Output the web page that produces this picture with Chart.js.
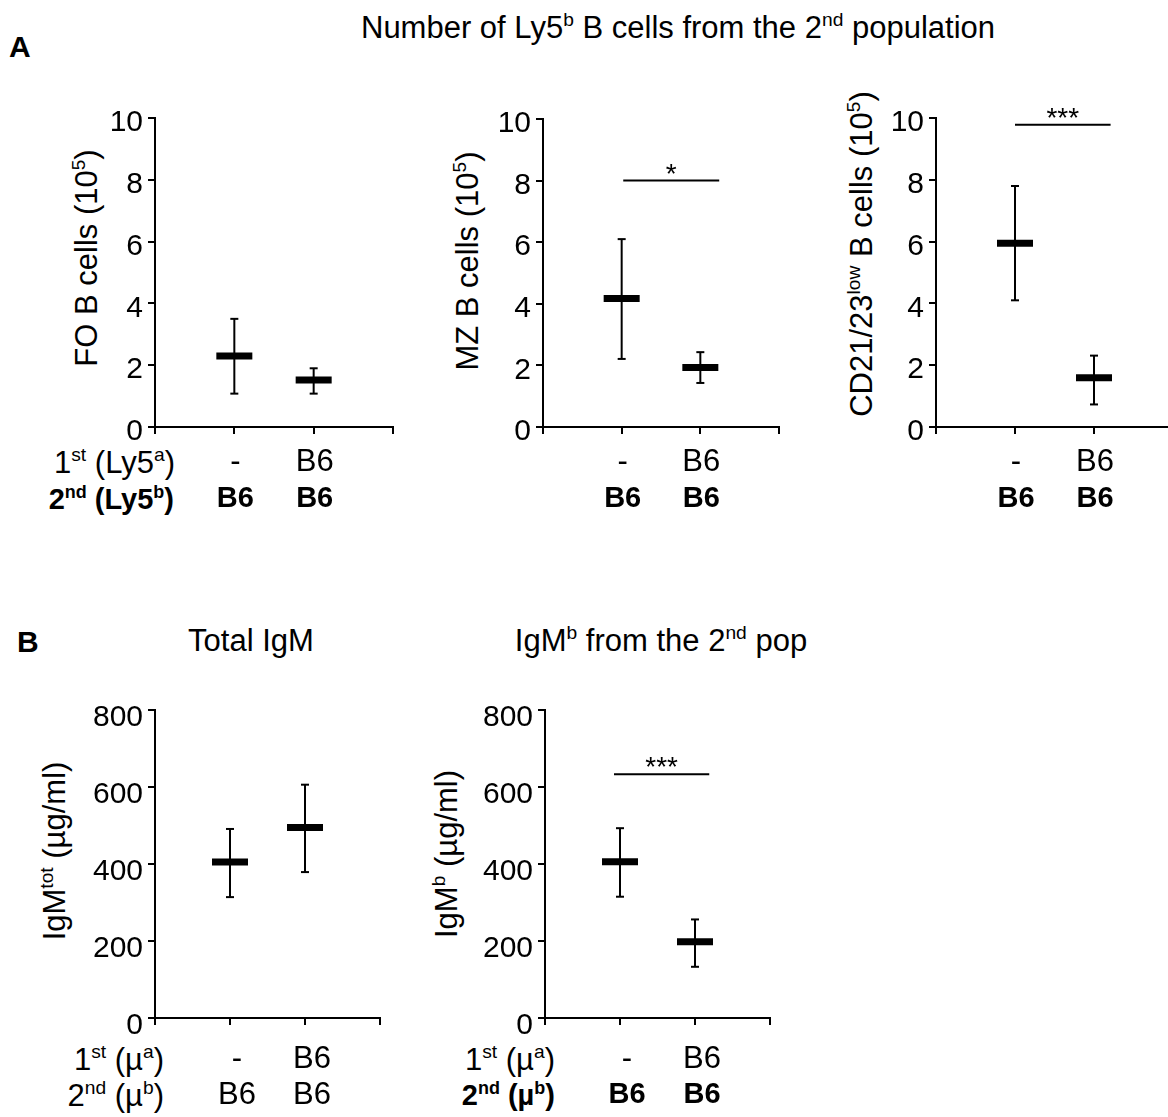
<!DOCTYPE html>
<html>
<head>
<meta charset="utf-8">
<script src="https://cdn.jsdelivr.net/npm/chart.js@4.4.1/dist/chart.umd.min.js"></script>
<style>
    body {
        margin: 0;
        width: 1168px;
        height: 1117px;
        overflow: hidden;
        position: relative;
        background: #fff;
        color: #000;
        font-family: "Liberation Sans", Arial, sans-serif;
    }
    .txt { position: absolute; white-space: nowrap; line-height: 1; }
    .c { transform: translate(-50%, -50%); }
    .r { transform: translate(-100%, -50%); }
    .v { transform: translate(-50%, -50%) rotate(-90deg); }
    .b { font-weight: bold; }
    sup { font-size: 0.62em; vertical-align: 0.6em; line-height: 0; }
    .panel { position: absolute; }
</style>
</head>
<body>

<div class="txt c" style="left:678px; top:27px; font-size:31px;">Number of Ly5<sup>b</sup> B cells from the 2<sup>nd</sup> population</div>
<div class="txt b" style="left:9px; top:32px; font-size:30px;">A</div>
<div class="txt b" style="left:17px; top:627px; font-size:30px;">B</div>
<div class="txt c" style="left:251px; top:640px; font-size:31px;">Total IgM</div>
<div class="txt c" style="left:661px; top:640px; font-size:31px;">IgM<sup>b</sup> from the 2<sup>nd</sup> pop</div>

<!-- rotated y axis titles -->
<div class="txt v" style="left:86px; top:258px; font-size:31px;">FO B cells (10<sup>5</sup>)</div>
<div class="txt v" style="left:467px; top:261px; font-size:31px;">MZ B cells (10<sup>5</sup>)</div>
<div class="txt v" style="left:861px; top:254px; font-size:31px;">CD21/23<sup>low</sup> B cells (10<sup>5</sup>)</div>
<div class="txt v" style="left:54px; top:851px; font-size:31px;">IgM<sup>tot</sup> (µg/ml)</div>
<div class="txt v" style="left:446px; top:854px; font-size:31px;">IgM<sup>b</sup> (µg/ml)</div>

<!-- row headers under the x axes -->
<div class="txt r" style="left:175px; top:462px; font-size:31px;">1<sup>st</sup> (Ly5<sup>a</sup>)</div>
<div class="txt r b" style="left:174px; top:499px; font-size:29px;">2<sup>nd</sup> (Ly5<sup>b</sup>)</div>
<div class="txt r" style="left:164px; top:1059px; font-size:31px;">1<sup>st</sup> (µ<sup>a</sup>)</div>
<div class="txt r" style="left:164px; top:1095px; font-size:31px;">2<sup>nd</sup> (µ<sup>b</sup>)</div>
<div class="txt r" style="left:555px; top:1059px; font-size:31px;">1<sup>st</sup> (µ<sup>a</sup>)</div>
<div class="txt r b" style="left:555px; top:1095px; font-size:29px;">2<sup>nd</sup> (µ<sup>b</sup>)</div>

<script>
// groups on the x axis
const groupX = [1, 2];
const row1Labels = ['-', 'B6'];
const row2Labels = ['B6', 'B6'];

// y axis ticks
const ticksCells = [0, 2, 4, 6, 8, 10];
const ticksIgm = [0, 200, 400, 600, 800];

// FO B cells (10^5)
const foMean = [2.3, 1.52];
const foHigh = [3.5, 1.9];
const foLow = [1.08, 1.08];

// MZ B cells (10^5)
const mzMean = [4.17, 1.93];
const mzHigh = [6.1, 2.43];
const mzLow = [2.21, 1.43];
const mzSigX = [1.02, 2.24];
const mzSigY = 8.0;

// CD21/23 low B cells (10^5)
const cdMean = [5.95, 1.59];
const cdHigh = [7.8, 2.31];
const cdLow = [4.1, 0.73];
const cdSigX = [1.0, 2.21];
const cdSigY = 9.78;

// total IgM (ug/ml)
const totMean = [405, 495];
const totHigh = [491, 606];
const totLow = [314, 379];

// IgM b (ug/ml)
const igbMean = [406, 198];
const igbHigh = [493, 256];
const igbLow = [315, 133];
const igbSigX = [0.92, 2.19];
const igbSigY = 633;

const FONT = '"Liberation Sans", Arial, sans-serif';
const PADL = 150, PADT = 40, PADR = 12, PADB = 110;

const panels = [
    { axisX: 155, yTop: 118, yBottom: 427, xRight: 393, ticks: ticksCells, mean: foMean, high: foHigh, low: foLow,
      labelOffset: 5, dx: 1, rowDy: [35, 72], row2Bold: true },
    { axisX: 543, yTop: 119, yBottom: 427, xRight: 779, ticks: ticksCells, mean: mzMean, high: mzHigh, low: mzLow,
      sigX: mzSigX, sigY: mzSigY, stars: '*', labelOffset: 5, dx: 1, rowDy: [35, 72], row2Bold: true },
    { axisX: 936, yTop: 118, yBottom: 427, xRight: 1173, ticks: ticksCells, mean: cdMean, high: cdHigh, low: cdLow,
      sigX: cdSigX, sigY: cdSigY, stars: '***', labelOffset: 5, dx: 1, rowDy: [35, 72], row2Bold: true },
    { axisX: 155, yTop: 710, yBottom: 1018, xRight: 380, ticks: ticksIgm, mean: totMean, high: totHigh, low: totLow,
      labelOffset: 8, dx: 7, rowDy: [41, 77], row2Bold: false },
    { axisX: 545, yTop: 710, yBottom: 1018, xRight: 770, ticks: ticksIgm, mean: igbMean, high: igbHigh, low: igbLow,
      sigX: igbSigX, sigY: igbSigY, stars: '***', labelOffset: 8, dx: 7, rowDy: [41, 77], row2Bold: true }
];

// category labels under the axis + significance stars
const extrasPlugin = {
    id: 'extras',
    afterDraw(chart, args, opts) {
        const ctx = chart.ctx;
        const x = chart.scales.x, y = chart.scales.y;
        const bottom = chart.chartArea.bottom;
        ctx.save();
        ctx.fillStyle = '#000';
        ctx.textAlign = 'center';
        ctx.textBaseline = 'middle';
        groupX.forEach((g, i) => {
            const px = x.getPixelForValue(g) + opts.dx;
            ctx.font = '31px ' + FONT;
            ctx.fillText(row1Labels[i], px, bottom + opts.rowDy[0]);
            ctx.font = (opts.row2Bold ? 'bold 29px ' : '31px ') + FONT;
            ctx.fillText(row2Labels[i], px, bottom + opts.rowDy[1]);
        });
        if (opts.sigX) {
            const mid = (x.getPixelForValue(opts.sigX[0]) + x.getPixelForValue(opts.sigX[1])) / 2;
            ctx.font = '28px ' + FONT;
            ctx.textBaseline = 'alphabetic';
            ctx.fillText(opts.stars, mid, y.getPixelForValue(opts.sigY) + 2);
        }
        ctx.restore();
    }
};

function buildConfig(p) {
    // means first so they are drawn on top
    const datasets = [{
        data: p.mean.map((m, i) => ({ x: groupX[i], y: m })),
        showLine: false,
        pointStyle: 'line',
        pointRadius: 18,
        pointBorderWidth: 7,
        pointBorderColor: '#000'
    }];
    p.mean.forEach((m, i) => {
        datasets.push({
            data: [{ x: groupX[i], y: p.low[i] }, { x: groupX[i], y: p.high[i] }],
            borderColor: '#000',
            borderWidth: 2,
            pointStyle: 'line',
            pointRadius: 4,
            pointBorderWidth: 2,
            pointBorderColor: '#000'
        });
    });
    if (p.sigX) {
        datasets.push({
            data: p.sigX.map(x => ({ x: x, y: p.sigY })),
            borderColor: '#000',
            borderWidth: 2,
            pointRadius: 0
        });
    }

    const axisGrid = { drawOnChartArea: false, drawTicks: true, tickLength: 7, color: '#000', lineWidth: 2 };
    const axisBorder = { display: true, color: '#000', width: 2 };
    const t = p.ticks;

    return {
        type: 'line',
        data: { datasets: datasets },
        options: {
            responsive: false,
            animation: false,
            clip: false,
            events: [],
            layout: { padding: { left: 0, top: PADT, right: PADR, bottom: 0 } },
            plugins: {
                legend: { display: false },
                tooltip: { enabled: false },
                extras: { dx: p.dx, rowDy: p.rowDy, row2Bold: p.row2Bold, sigX: p.sigX, sigY: p.sigY, stars: p.stars }
            },
            scales: {
                x: {
                    type: 'linear',
                    min: 0,
                    max: 3,
                    ticks: { display: false, stepSize: 1 },
                    grid: axisGrid,
                    border: axisBorder,
                    afterFit: s => { s.height = PADB; }
                },
                y: {
                    min: t[0],
                    max: t[t.length - 1],
                    ticks: {
                        stepSize: t[1] - t[0],
                        color: '#000',
                        padding: 5,
                        labelOffset: p.labelOffset,
                        font: { family: FONT, size: 30 }
                    },
                    grid: axisGrid,
                    border: axisBorder,
                    afterFit: s => { s.width = PADL; }
                }
            }
        },
        plugins: [extrasPlugin]
    };
}

function makeChart(p) {
    const wrap = document.createElement('div');
    wrap.className = 'panel';
    document.body.appendChild(wrap);

    let w = p.xRight - p.axisX + PADL + PADR;
    let h = p.yBottom - p.yTop + PADT + PADB;
    let chart, ca;
    // build, measure the plot area, and rebuild with a corrected canvas size
    for (let pass = 0; pass < 3; pass++) {
        wrap.innerHTML = '';
        const canvas = document.createElement('canvas');
        canvas.width = w;
        canvas.height = h;
        wrap.appendChild(canvas);
        chart = new Chart(canvas.getContext('2d'), buildConfig(p));
        ca = chart.chartArea;
        const dw = Math.round((p.xRight - p.axisX) - (ca.right - ca.left));
        const dh = Math.round((p.yBottom - p.yTop) - (ca.bottom - ca.top));
        if (!dw && !dh) break;
        chart.destroy();
        w += dw;
        h += dh;
    }
    wrap.style.left = Math.round(p.axisX - ca.left) + 'px';
    wrap.style.top = Math.round(p.yTop - ca.top) + 'px';
}

panels.forEach(makeChart);
</script>
</body>
</html>
